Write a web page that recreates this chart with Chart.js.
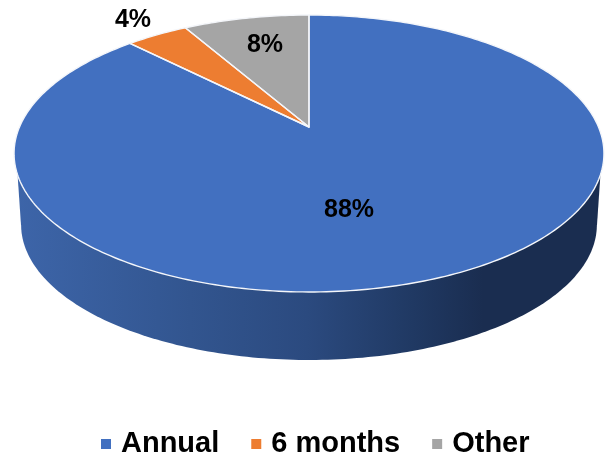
<!DOCTYPE html>
<html>
<head>
<meta charset="utf-8">
<style>
  html, body { margin: 0; padding: 0; background: #fff; }
  canvas { display: block; }
</style>
<script src="https://cdn.jsdelivr.net/npm/chart.js@4"></script>
</head>
<body>
<canvas id="pie" width="605" height="455"></canvas>
<script>
const categories = ["Annual", "6 months", "Other"];
const shares = [87.6, 4.1, 8.3];
const colors = ["#4270C0", "#ED7D31", "#A5A5A5"];
const labelSpots = [[349, 210], [133, 20], [265, 45]];

// the pie is seen in perspective, so unit circle -> screen goes through this
const view = { x: 309, y: 127, wide: 289.5, tall: 133.4, tilt: 0.1913 };

function project(u, v, scale, cy) {
    const d = 1 - view.tilt * v;
    return [view.x + scale * view.wide * u / d, cy + scale * view.tall * v / d];
}

function tracePie(ctx, from, to, scale, cy, withCentre) {
    const steps = Math.max(2, Math.ceil((to - from) * 60));
    ctx.beginPath();
    if (withCentre) ctx.moveTo(view.x, cy);
    for (let i = 0; i <= steps; i++) {
        const a = from + (to - from) * i / steps;
        const p = project(Math.cos(a), Math.sin(a), scale, cy);
        ctx.lineTo(p[0], p[1]);
    }
    ctx.closePath();
}

const pie3d = {
    id: "pie3d",
    afterLayout(chart) {
        // legend sits lower and further right than its big padding would allow
        const legend = chart.legend;
        legend.top = 443 - legend.options.labels.padding - 13.5;
        legend.left += 15;
        legend.right += 15;
    },
    beforeDatasetDraw(chart) {
        const ctx = chart.ctx;
        const arcs = chart.getDatasetMeta(0).data;
        ctx.save();

        // side wall
        const wall = ctx.createLinearGradient(15, 0, 600, 0);
        wall.addColorStop(0, "#3D65A9");
        wall.addColorStop(0.3, "#32558F");
        wall.addColorStop(0.5, "#2B4A7F");
        wall.addColorStop(0.68, "#203963");
        wall.addColorStop(0.8, "#1A2D50");
        wall.addColorStop(1, "#1A2D50");
        ctx.fillStyle = wall;
        tracePie(ctx, 0, Math.PI * 2, 0.976, 199, false);
        ctx.fill();
        ctx.beginPath();
        ctx.moveTo(17.6, 175);
        ctx.lineTo(21, 225);
        ctx.lineTo(597, 225);
        ctx.lineTo(600.4, 175);
        ctx.closePath();
        ctx.fill();

        // top face, from the angles the library worked out
        arcs.forEach((arc, i) => {
            tracePie(ctx, arc.startAngle, arc.endAngle, 1, view.y, true);
            ctx.fillStyle = colors[i];
            ctx.fill();
        });
        ctx.strokeStyle = "#F4F6FA";
        ctx.lineWidth = 1.4;
        ctx.lineJoin = "round";
        arcs.forEach(arc => {
            tracePie(ctx, arc.startAngle, arc.endAngle, 1, view.y, true);
            ctx.stroke();
        });

        ctx.fillStyle = "#000";
        ctx.font = "bold 25px 'Liberation Sans'";
        ctx.textAlign = "center";
        ctx.textBaseline = "middle";
        shares.forEach((s, i) => {
            ctx.fillText(Math.round(s) + "%", labelSpots[i][0], labelSpots[i][1]);
        });
        ctx.restore();
        return false;
    }
};

new Chart(document.getElementById("pie"), {
    type: "pie",
    data: {
        labels: categories,
        datasets: [{ data: shares, backgroundColor: colors, borderWidth: 0 }]
    },
    options: {
        responsive: false,
        animation: false,
        events: [],
        plugins: {
            tooltip: { enabled: false },
            legend: {
                position: "bottom",
                labels: {
                    usePointStyle: true,
                    pointStyle: "rect",
                    boxWidth: 1,
                    boxHeight: 10,
                    padding: 36.5,
                    color: "#000",
                    font: { family: "'Liberation Sans'", size: 29, weight: "bold" }
                }
            }
        }
    },
    plugins: [pie3d]
});
</script>
</body>
</html>
